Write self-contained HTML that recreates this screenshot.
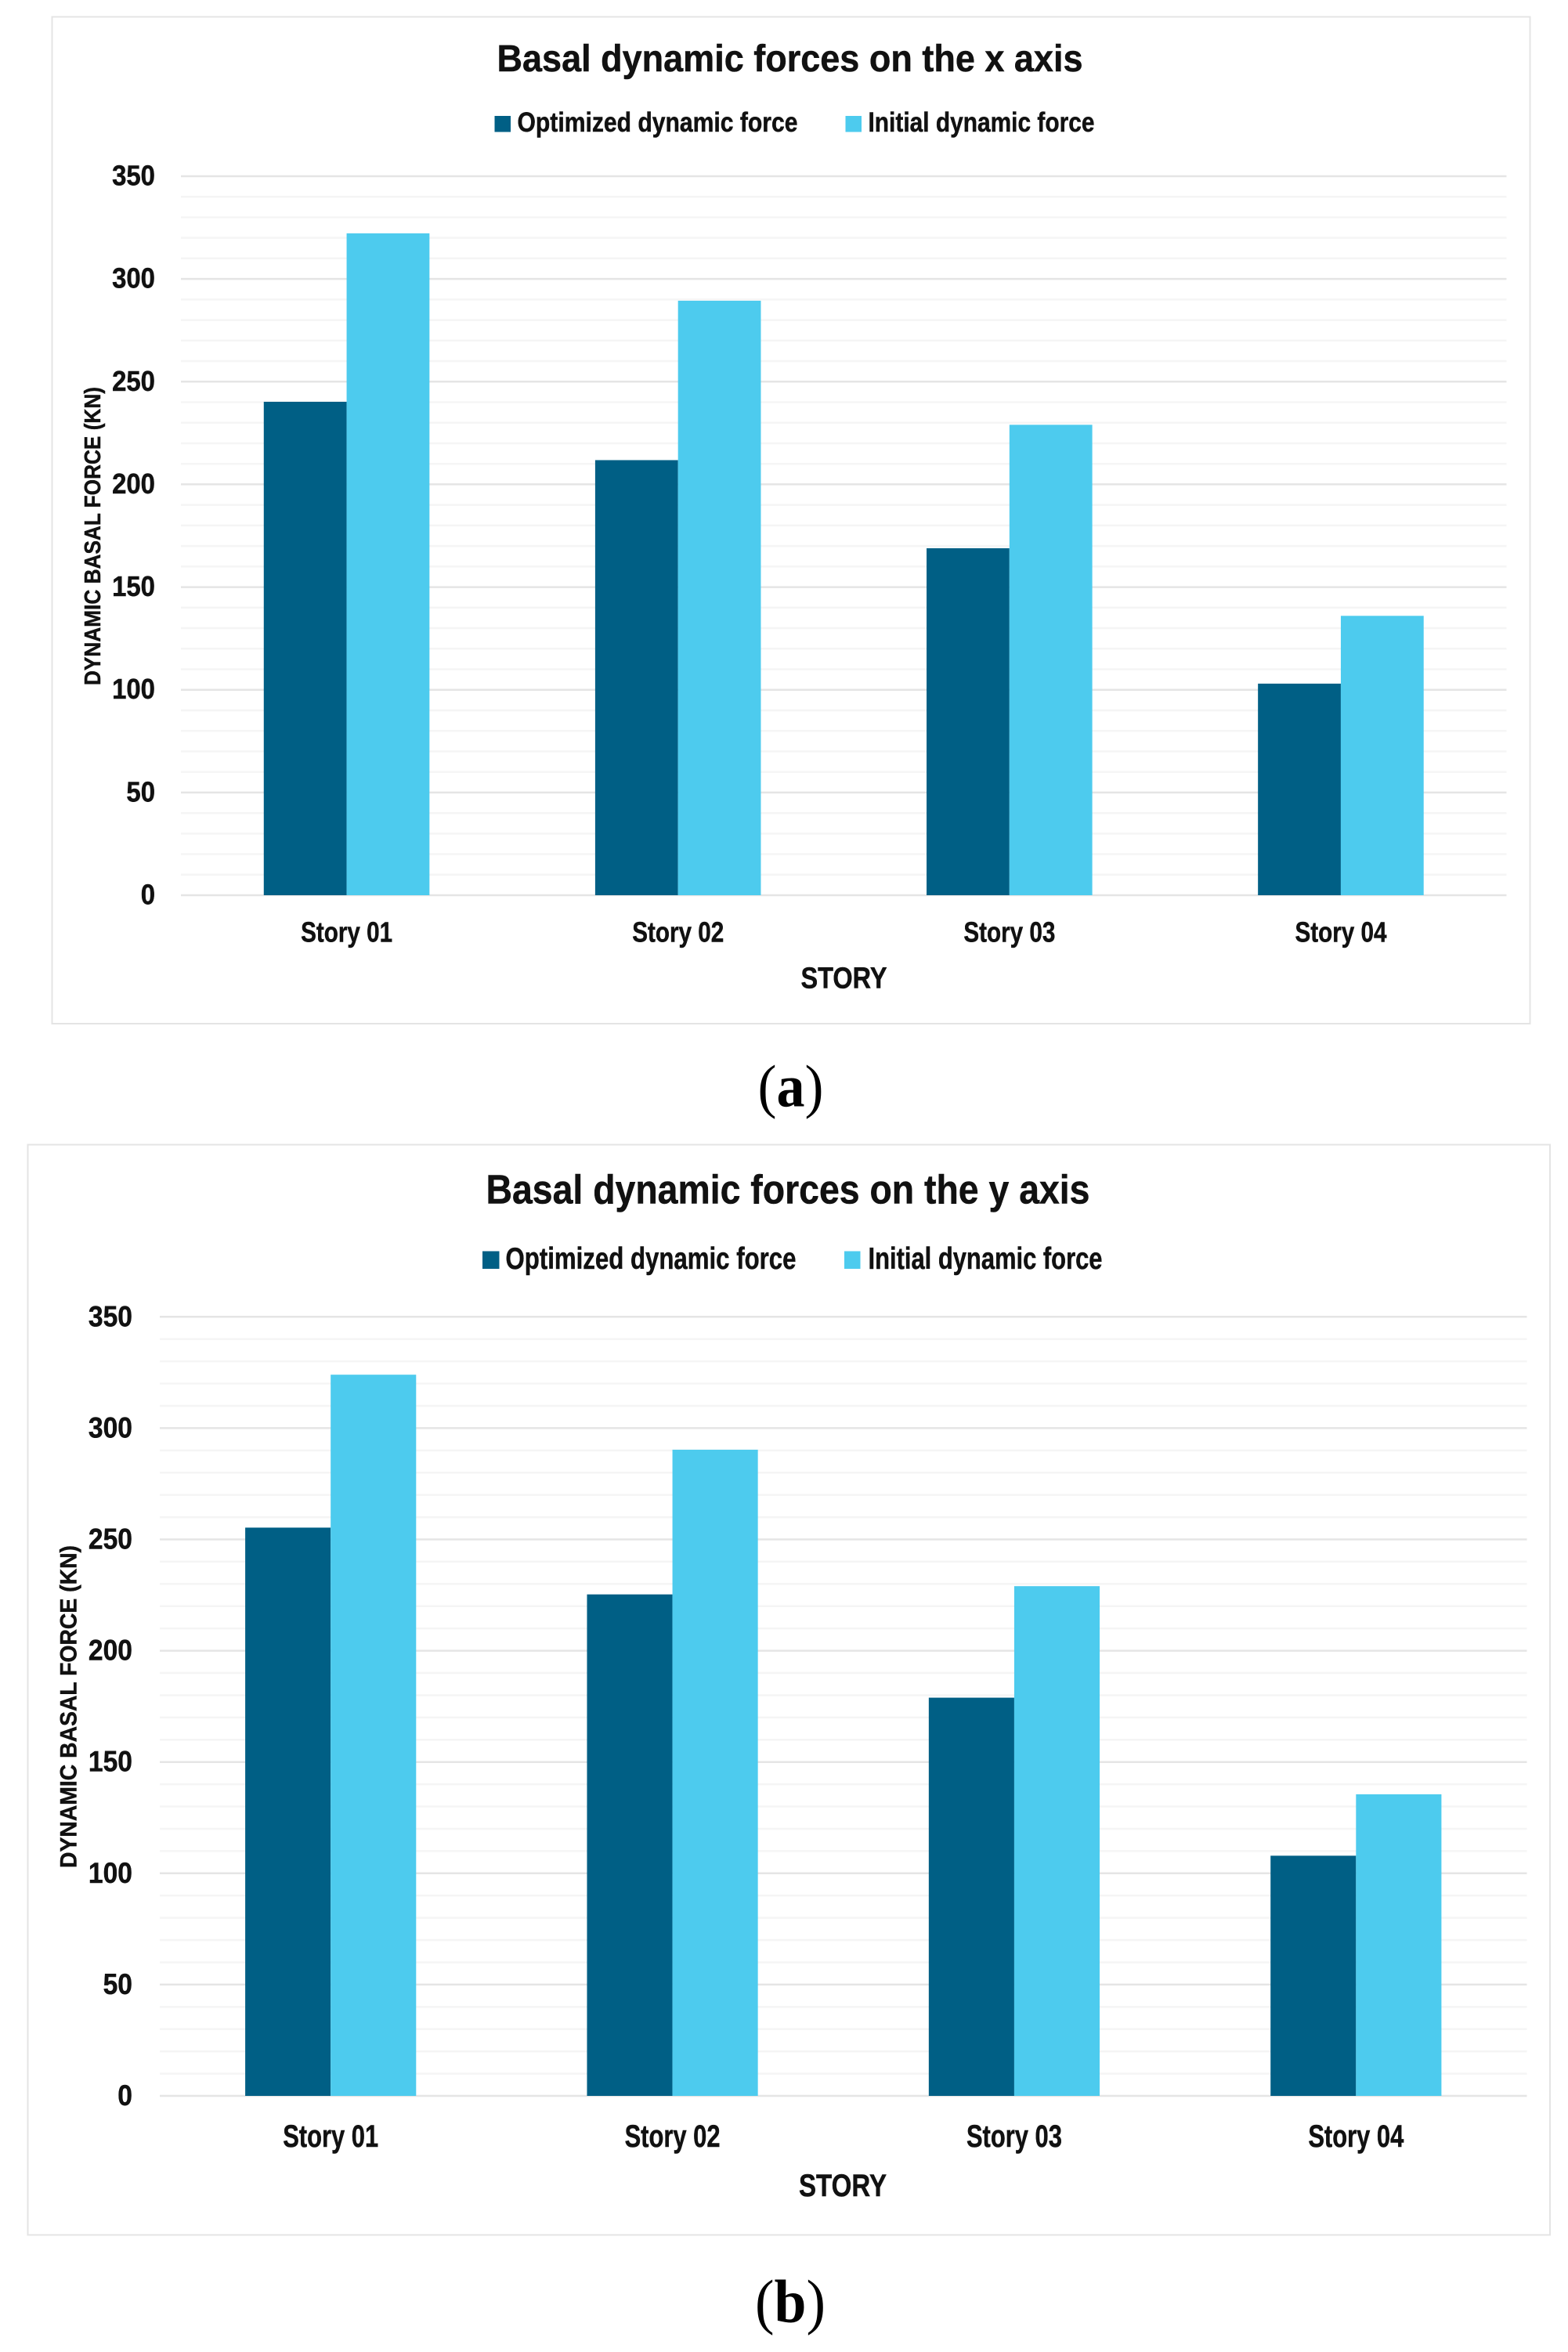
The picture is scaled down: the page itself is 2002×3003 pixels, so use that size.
<!DOCTYPE html>
<html lang="en">
<head>
<meta charset="utf-8">
<title>Basal dynamic forces</title>
<style>
html,body{margin:0;padding:0;background:#fff;}
svg{display:block;}
text{font-family:"Liberation Sans",sans-serif;font-weight:bold;fill:#111;stroke:#111;stroke-width:0.5px;}
.cap{font-family:"Liberation Serif",serif;font-weight:normal;fill:#000;stroke:none;}
.cap .b{font-weight:bold;}
</style>
</head>
<body>
<svg id="figure" xmlns="http://www.w3.org/2000/svg" width="2002" height="3003" viewBox="0 0 2002 3003">
  <rect x="0" y="0" width="2002" height="3003" fill="#fff"/>

  <g id="chart-a">
    <rect x="66.5" y="21.5" width="1887" height="1285.5" fill="#fff" stroke="#E4E4E4" stroke-width="2"/>
    <g id="chart-a-grid"></g>
    <g id="chart-a-bars"></g>
    <g id="chart-a-ticks"></g>
    <g id="chart-a-cats"></g>
    <text x="634.5" y="91" font-size="48" textLength="748" lengthAdjust="spacingAndGlyphs">Basal dynamic forces on the x axis</text>
    <rect x="631.5" y="148" width="20.5" height="20.5" fill="#005F85"/>
    <text x="660.5" y="168" font-size="35" textLength="358" lengthAdjust="spacingAndGlyphs">Optimized dynamic force</text>
    <rect x="1079.5" y="148" width="20.5" height="20.5" fill="#4DCBEE"/>
    <text x="1108.5" y="168" font-size="35" textLength="289" lengthAdjust="spacingAndGlyphs">Initial dynamic force</text>
    <text transform="translate(128 875) rotate(-90)" x="0" y="0" font-size="29" textLength="381" lengthAdjust="spacingAndGlyphs">DYNAMIC BASAL FORCE (KN)</text>
    <text x="1022.5" y="1261.5" font-size="38" textLength="110" lengthAdjust="spacingAndGlyphs">STORY</text>
  </g>
  <text class="cap" x="1009.5" y="1412.5" font-size="76" text-anchor="middle" textLength="84" lengthAdjust="spacingAndGlyphs">(<tspan class="b">a</tspan>)</text>

  <g id="chart-b">
    <rect x="35.5" y="1461.5" width="1943.5" height="1392" fill="#fff" stroke="#E4E4E4" stroke-width="2"/>
    <g id="chart-b-grid"></g>
    <g id="chart-b-bars"></g>
    <g id="chart-b-ticks"></g>
    <g id="chart-b-cats"></g>
    <text x="620.5" y="1536.5" font-size="52" textLength="771" lengthAdjust="spacingAndGlyphs">Basal dynamic forces on the y axis</text>
    <rect x="616" y="1597.5" width="21.5" height="22.5" fill="#005F85"/>
    <text x="645.5" y="1620" font-size="39" textLength="371" lengthAdjust="spacingAndGlyphs">Optimized dynamic force</text>
    <rect x="1078" y="1597.5" width="20.5" height="22.5" fill="#4DCBEE"/>
    <text x="1108.5" y="1620" font-size="39" textLength="299" lengthAdjust="spacingAndGlyphs">Initial dynamic force</text>
    <text transform="translate(97.5 2385) rotate(-90)" x="0" y="0" font-size="30" textLength="412" lengthAdjust="spacingAndGlyphs">DYNAMIC BASAL FORCE (KN)</text>
    <text x="1020" y="2804" font-size="40" textLength="112" lengthAdjust="spacingAndGlyphs">STORY</text>
  </g>
  <text class="cap" x="1009" y="2965" font-size="78" text-anchor="middle" textLength="90" lengthAdjust="spacingAndGlyphs">(<tspan class="b">b</tspan>)</text>
</svg>

<script>
var categories = ["Story 01", "Story 02", "Story 03", "Story 04"];
var yTickLabels = [0, 50, 100, 150, 200, 250, 300, 350];
var minorTickValues = [10, 20, 30, 40, 60, 70, 80, 90, 110, 120, 130, 140, 160, 170, 180, 190, 210, 220, 230, 240, 260, 270, 280, 290, 310, 320, 330, 340];
var optimizedX = [240.2, 211.8, 168.9, 103];
var initialX = [322.2, 289.4, 229, 136];
var optimizedY = [255.3, 225.3, 178.9, 107.9];
var initialY = [324, 290.3, 229, 135.5];

var SVG_NS = "http://www.w3.org/2000/svg";

function makeScaleY(layout) {
  return function (v) {
    return layout.y0 - (v / 350) * (layout.y0 - layout.y350);
  };
}
function makeBandX(layout) {
  var band = (layout.right - layout.left) / categories.length;
  return function (i) {
    return layout.left + band * (i + 0.5);
  };
}
function drawChart(id, layout, optimized, initial) {
  var sy = makeScaleY(layout);
  var bx = makeBandX(layout);
  var barW = (layout.right - layout.left) / categories.length / 4;
  var grid = document.getElementById(id + "-grid");
  var bars = document.getElementById(id + "-bars");
  var ticks = document.getElementById(id + "-ticks");
  var cats = document.getElementById(id + "-cats");

  minorTickValues.forEach(function (v) {
    var l = document.createElementNS(SVG_NS, "line");
    
    
    l.setAttribute("x1", layout.left);
    l.setAttribute("x2", layout.right);
    l.setAttribute("y1", sy(v));
    l.setAttribute("y2", sy(v));
    l.setAttribute("stroke", "#F5F5F5");
    l.setAttribute("stroke-width", "2.5");
    grid.appendChild(l);
  });
  yTickLabels.forEach(function (v) {
    var l = document.createElementNS(SVG_NS, "line");
    
    
    l.setAttribute("x1", layout.left);
    l.setAttribute("x2", layout.right);
    l.setAttribute("y1", sy(v));
    l.setAttribute("y2", sy(v));
    l.setAttribute("stroke", "#E5E5E5");
    l.setAttribute("stroke-width", "2.5");
    grid.appendChild(l);

    var t = document.createElementNS(SVG_NS, "text");
    
    
    t.setAttribute("x", layout.tickRight);
    t.setAttribute("y", sy(v) + layout.tickDy);
    t.setAttribute("font-size", layout.tickFont);
    t.setAttribute("text-anchor", "end");
    t.setAttribute("textLength", String(v).length * layout.tickCharW);
    t.setAttribute("lengthAdjust", "spacingAndGlyphs");
    t.textContent = String(v);
    ticks.appendChild(t);
  });
  categories.forEach(function (name, i) {
    var r1 = document.createElementNS(SVG_NS, "rect");
    
    
    r1.setAttribute("x", bx(i) - barW);
    r1.setAttribute("y", sy(optimized[i]));
    r1.setAttribute("width", barW);
    r1.setAttribute("height", sy(0) - sy(optimized[i]));
    r1.setAttribute("fill", "#005F85");
    bars.appendChild(r1);

    var r2 = document.createElementNS(SVG_NS, "rect");
    
    
    r2.setAttribute("x", bx(i));
    r2.setAttribute("y", sy(initial[i]));
    r2.setAttribute("width", barW);
    r2.setAttribute("height", sy(0) - sy(initial[i]));
    r2.setAttribute("fill", "#4DCBEE");
    bars.appendChild(r2);

    var c = document.createElementNS(SVG_NS, "text");
    
    
    c.setAttribute("x", bx(i));
    c.setAttribute("y", layout.catY);
    c.setAttribute("font-size", layout.catFont);
    c.setAttribute("text-anchor", "middle");
    c.setAttribute("textLength", layout.catW);
    c.setAttribute("lengthAdjust", "spacingAndGlyphs");
    c.textContent = name;
    cats.appendChild(c);
  });
}

drawChart("chart-a",
  { left: 231, right: 1923.5, y0: 1143, y350: 225, tickRight: 198, tickDy: 11.5, tickFont: 36, tickCharW: 18.3, catY: 1202.5, catFont: 36, catW: 117 },
  optimizedX, initialX);
drawChart("chart-b",
  { left: 204, right: 1949.5, y0: 2676, y350: 1681.3, tickRight: 169, tickDy: 12, tickFont: 37, tickCharW: 18.7, catY: 2741, catFont: 40, catW: 122 },
  optimizedY, initialY);
</script>
</body>
</html>
